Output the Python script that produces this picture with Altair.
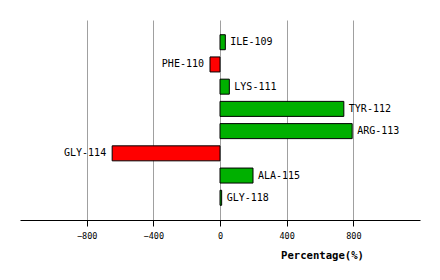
import altair as alt
import pandas as pd

residues = ["ILE-109", "PHE-110", "LYS-111", "TYR-112", "ARG-113", "GLY-114", "ALA-115", "GLY-118"]
values = [32, -60, 56, 743, 793, -647, 198, 10]
ticks = [-800, -400, 0, 400, 800]

df = pd.DataFrame({"residue": residues, "value": values})
df["sign"] = ["pos" if v >= 0 else "neg" for v in values]

FONT = "DejaVu Sans Mono"

x = alt.X("value:Q",
          scale=alt.Scale(domain=[-1200, 1200], nice=False, zero=False),
          axis=alt.Axis(values=ticks, title="Percentage(%)", grid=True,
                        gridColor="#a0a0a0", gridWidth=1,
                        domainColor="black", tickColor="black", tickSize=6,
                        labelFont=FONT, labelFontSize=8.5, labelColor="black",
                        labelPadding=5,
                        titleFont=FONT, titleFontSize=10.6, titleFontWeight="bold",
                        titleColor="black", titleX=302, titleY=38.5,
                        titleAlign="center", titleBaseline="alphabetic"))
y = alt.Y("residue:N", sort=residues,
          scale=alt.Scale(paddingInner=0.325, paddingOuter=0.6625),
          axis=None)

base = alt.Chart(df)

bars = base.mark_bar(stroke="black", strokeWidth=1).encode(
    x=x,
    x2=alt.datum(0),
    y=y,
    color=alt.Color("sign:N", scale=alt.Scale(domain=["pos", "neg"], range=["#00b000", "#ff0000"]), legend=None),
)

pos_text = base.transform_filter(alt.datum.value >= 0).mark_text(
    align="left", baseline="middle", dx=5, font=FONT, fontSize=10, color="black"
).encode(x="value:Q", y=alt.Y("residue:N", sort=residues), text="residue:N")

neg_text = base.transform_filter(alt.datum.value < 0).mark_text(
    align="right", baseline="middle", dx=-6, font=FONT, fontSize=10, color="black"
).encode(x="value:Q", y=alt.Y("residue:N", sort=residues), text="residue:N")

chart = alt.layer(bars, pos_text, neg_text).properties(
    width=400, height=200,
    background="white",
    autosize=alt.AutoSizeParams(type="none"),
    padding={"left": 20, "top": 20, "right": 20, "bottom": 60},
).configure_view(strokeWidth=0, stroke="transparent")

chart.save("out.html", embed_options={"renderer": "svg", "actions": False})
